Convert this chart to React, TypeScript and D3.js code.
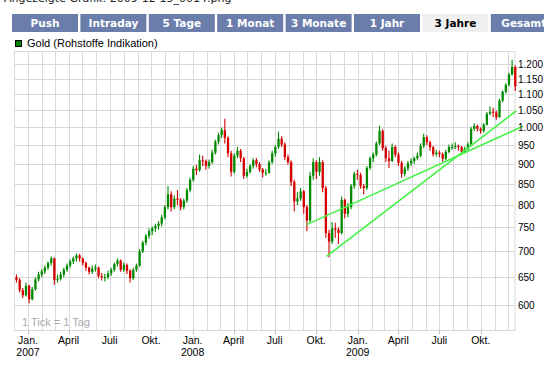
import React from 'react';
import * as d3 from 'd3';

const tabs = ['Push', 'Intraday', '5 Tage', '1 Monat', '3 Monate', '1 Jahr', '3 Jahre', 'Gesamt'];
const activeTab = '3 Jahre';
const caption = 'Angezeigte Grafik: 2009-12-15_0014.png';
const seriesName = 'Gold (Rohstoffe Indikation)';
const tickNote = '1 Tick = 1 Tag';

// first week of the candles, one candle per week after that
const firstWeek = '2006-12-04';

// weekly candles: [open, high, low, close]
const ohlc: [number, number, number, number][] = [
  [650, 655, 640, 645], [645, 648, 622, 626], [626, 630, 612, 617], [617, 640, 615, 634],
  [634, 636, 603, 610], [610, 632, 608, 628], [628, 650, 625, 646], [646, 660, 642, 655],
  [655, 665, 650, 661], [661, 672, 656, 668], [668, 680, 664, 677], [677, 690, 672, 686],
  [686, 688, 636, 645], [645, 655, 640, 647], [647, 660, 644, 655], [655, 668, 650, 664],
  [664, 676, 660, 672], [672, 684, 668, 680], [680, 690, 675, 686], [686, 696, 680, 692],
  [692, 695, 680, 686], [686, 688, 672, 677], [677, 680, 662, 668], [668, 670, 655, 660],
  [660, 672, 656, 666], [666, 674, 660, 668], [668, 670, 648, 652], [652, 658, 644, 650],
  [650, 656, 642, 650], [650, 662, 646, 657], [657, 668, 652, 664], [664, 678, 660, 675],
  [675, 686, 670, 682], [682, 684, 660, 664], [664, 678, 660, 673], [673, 676, 656, 662],
  [662, 665, 640, 648], [648, 668, 645, 664], [664, 676, 660, 672], [672, 705, 670, 700],
  [700, 722, 697, 718], [718, 736, 712, 732], [732, 748, 726, 742], [742, 752, 734, 748],
  [748, 758, 740, 753], [753, 764, 745, 758], [758, 778, 752, 772], [772, 800, 768, 795],
  [795, 845, 790, 825], [825, 832, 785, 795], [795, 822, 790, 815], [815, 835, 800, 812],
  [812, 816, 788, 795], [795, 815, 790, 810], [810, 840, 805, 835], [835, 866, 830, 860],
  [860, 895, 855, 888], [888, 898, 872, 884], [884, 925, 880, 910], [910, 922, 895, 908],
  [908, 912, 885, 895], [895, 912, 888, 905], [905, 938, 900, 930], [930, 965, 925, 960],
  [960, 985, 952, 978], [978, 1000, 970, 992], [992, 1025, 955, 970], [970, 975, 918, 928],
  [928, 935, 868, 880], [880, 928, 875, 922], [922, 945, 915, 935], [935, 940, 905, 915],
  [915, 918, 862, 870], [870, 888, 865, 880], [880, 900, 875, 895], [895, 915, 888, 910],
  [910, 916, 892, 900], [900, 905, 880, 886], [886, 890, 866, 878], [878, 888, 870, 878],
  [878, 910, 875, 905], [905, 935, 900, 928], [928, 950, 920, 945], [945, 988, 940, 968],
  [968, 975, 945, 952], [952, 958, 910, 918], [918, 925, 898, 905], [905, 910, 845, 855],
  [855, 860, 785, 808], [808, 830, 800, 815], [815, 840, 810, 832], [832, 835, 780, 795],
  [795, 800, 742, 765], [765, 880, 760, 870], [870, 915, 860, 905], [905, 910, 862, 880],
  [880, 918, 870, 905], [905, 910, 830, 840], [840, 845, 728, 738], [738, 745, 688, 720],
  [720, 762, 715, 748], [748, 760, 728, 745], [745, 750, 715, 738], [738, 820, 735, 812],
  [812, 815, 770, 780], [780, 805, 772, 795], [795, 850, 790, 845], [845, 880, 838, 875],
  [875, 885, 860, 872], [872, 878, 838, 845], [845, 850, 825, 840], [840, 895, 835, 890],
  [890, 920, 885, 915], [915, 930, 905, 925], [925, 960, 920, 955], [955, 1005, 950, 990],
  [990, 995, 935, 942], [942, 948, 905, 915], [915, 935, 890, 908], [908, 955, 905, 945],
  [945, 950, 918, 925], [925, 930, 895, 903], [903, 908, 865, 875], [875, 895, 868, 888],
  [888, 908, 882, 902], [902, 915, 895, 908], [908, 920, 900, 915], [915, 930, 910, 922],
  [922, 955, 918, 948], [948, 982, 942, 972], [972, 978, 950, 958], [958, 962, 935, 944],
  [944, 948, 920, 926], [926, 938, 920, 930], [930, 935, 918, 926], [926, 930, 906, 914],
  [914, 938, 910, 932], [932, 952, 928, 945], [945, 955, 938, 945], [945, 958, 940, 948],
  [948, 952, 935, 945], [945, 948, 925, 932], [932, 946, 928, 940], [940, 958, 936, 952],
  [952, 1002, 950, 996], [996, 1012, 990, 1004], [1004, 1008, 988, 996], [996, 1000, 982, 990],
  [990, 1012, 985, 1008], [1008, 1045, 1005, 1040], [1040, 1062, 1035, 1046], [1046, 1058, 1030, 1044],
  [1044, 1050, 1022, 1030], [1030, 1085, 1028, 1080], [1080, 1112, 1075, 1108], [1108, 1135, 1102, 1130],
  [1130, 1170, 1125, 1165], [1165, 1215, 1160, 1190], [1190, 1195, 1110, 1125],
];

const yTicks = [600, 650, 700, 750, 800, 850, 900, 950, 1000, 1050, 1100, 1150, 1200];
const quarterNames = ['Jan.', 'April', 'Juli', 'Okt.'];

// the two support lines drawn on the chart
const trendA = [{ date: '2008-09-10', value: 756 }, { date: '2010-01-02', value: 1003 }];
const trendB = [{ date: '2008-10-24', value: 690 }, { date: '2009-12-19', value: 1049 }];

const parse = d3.timeParse('%Y-%m-%d');
const de = d3.formatLocale({ decimal: ',', thousands: '.', grouping: [3], currency: ['', ' €'] });
const fmt = de.format(',');

const GRID = '#d9d9d9';
const UP = '#008a00';
const DOWN = '#d40000';
const TREND = '#44f244';
const TAB_BG = '#6a7dab';

export default function App() {
  const left = 14, right = 515.5, top = 51, bottom = 330;
  const start = new Date(2006, 11, 1);
  const end = new Date(2009, 11, 17);

  const x = d3.scaleTime().domain([start, end]).range([left, right]);
  const y = d3.scaleLog().domain([600, 1200]).range([305, 64]);

  const months = d3.timeMonth.range(start, end);
  const quarters = d3.timeMonth.every(3)!.range(new Date(2007, 0, 1), end);

  const week0 = parse(firstWeek)!;
  const candles = ohlc.map((d, i) => ({
    date: d3.timeDay.offset(week0, 7 * i),
    open: d[0], high: d[1], low: d[2], close: d[3],
  }));

  const line = d3.line<{ date: string; value: number }>()
    .x((d) => x(parse(d.date)!))
    .y((d) => y(d.value));

  const tabW = 66, tabStep = 68.4;
  const labelFont = '"Liberation Sans", Arial, sans-serif';

  return (
    <div style={{ position: 'fixed', left: 0, top: 0, width: 544, height: 365, background: '#fff' }}>
      <svg width={544} height={365} style={{ display: 'block' }}>
        <text x={4} y={2} fontFamily='"DejaVu Sans", sans-serif' fontSize={11} fill="#222">{caption}</text>

        {tabs.map((t, i) => {
          const active = t === activeTab;
          return (
            <g key={t} transform={`translate(${12 + i * tabStep},14)`}>
              <rect width={tabW} height={18} fill={active ? '#f0f0f0' : TAB_BG} />
              <text x={tabW / 2} y={13} textAnchor="middle" fontFamily='"DejaVu Sans", sans-serif'
                fontWeight="bold" fontSize={10.5} fill={active ? '#000' : '#fff'}>{t}</text>
            </g>
          );
        })}

        <rect x={15.5} y={40.5} width={6} height={6} fill="#008000" stroke="#000" strokeWidth={1} />
        <text x={27} y={47} fontFamily={labelFont} fontSize={11} fill="#000">{seriesName}</text>

        {/* grid */}
        {months.map((m) => (
          <line key={+m} x1={Math.round(x(m)) + 0.5} x2={Math.round(x(m)) + 0.5} y1={top} y2={bottom} stroke={GRID} />
        ))}
        {yTicks.map((v) => (
          <line key={v} x1={left} x2={right} y1={Math.round(y(v)) + 0.5} y2={Math.round(y(v)) + 0.5} stroke={GRID} />
        ))}
        <rect x={left + 0.5} y={top + 0.5} width={right - left - 1} height={bottom - top} fill="none" stroke={GRID} />

        <text x={22} y={326} fontFamily={labelFont} fontSize={11} fill="#aaa">{tickNote}</text>

        {/* candles */}
        {candles.map((c, i) => {
          const cx = x(c.date);
          const col = c.close >= c.open ? UP : DOWN;
          const yt = y(Math.max(c.open, c.close));
          const yb = y(Math.min(c.open, c.close));
          return (
            <g key={i}>
              <line x1={cx + 1.1} x2={cx + 1.1} y1={y(c.high)} y2={y(c.low)} stroke={col} strokeWidth={1.1} />
              <rect x={cx} y={yt} width={2.3} height={Math.max(1, yb - yt)} fill={col} />
            </g>
          );
        })}

        {/* trend lines */}
        <path d={line(trendA)!} fill="none" stroke={TREND} strokeWidth={1.6} />
        <path d={line(trendB)!} fill="none" stroke={TREND} strokeWidth={1.6} />

        {/* y labels */}
        {yTicks.map((v) => (
          <text key={v} x={518} y={y(v) + 4} fontFamily={labelFont} fontSize={10} fill="#000">{fmt(v)}</text>
        ))}

        {/* x labels */}
        {quarters.map((q) => {
          const qx = x(q);
          return (
            <g key={+q}>
              <line x1={Math.round(qx) + 0.5} x2={Math.round(qx) + 0.5} y1={bottom} y2={bottom + 4} stroke="#bbb" />
              <text x={qx} y={344} textAnchor="middle" fontFamily={labelFont} fontSize={10.5} fill="#000">
                {quarterNames[q.getMonth() / 3]}
              </text>
              {q.getMonth() === 0 && (
                <text x={qx} y={356} textAnchor="middle" fontFamily={labelFont} fontSize={10.5} fill="#000">
                  {q.getFullYear()}
                </text>
              )}
            </g>
          );
        })}
      </svg>
    </div>
  );
}
